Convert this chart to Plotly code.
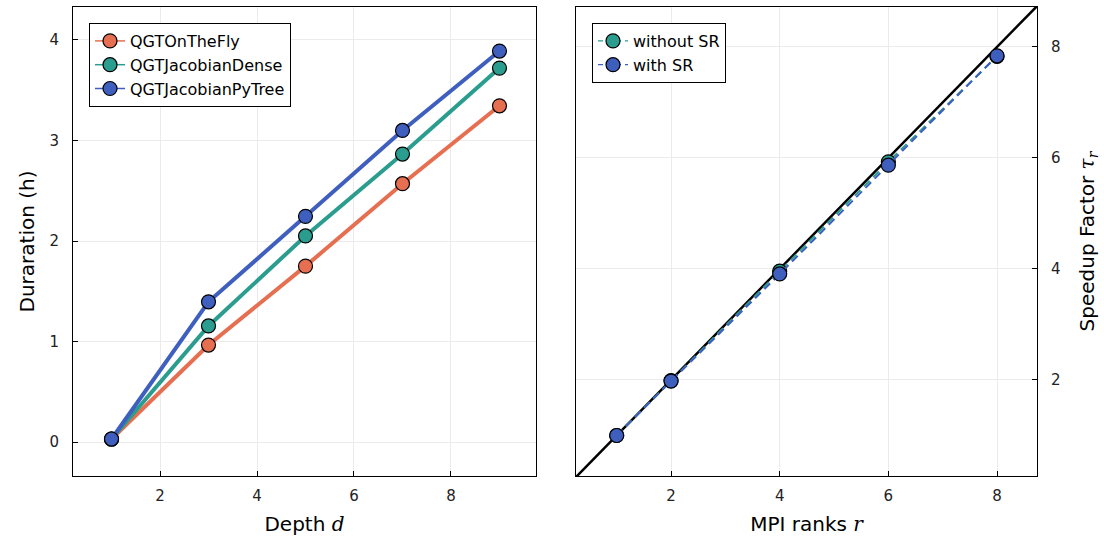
import plotly.graph_objects as go

# ---- data ----
depth = [1, 3, 5, 7, 9]
otf = [0.03, 0.965, 1.75, 2.57, 3.345]
jac_dense = [0.03, 1.155, 2.05, 2.865, 3.72]
jac_pytree = [0.03, 1.395, 2.245, 3.10, 3.89]

ranks = [1, 2, 4, 6, 8]
without_sr = [1.0, 1.99, 3.96, 5.93, 7.83]
with_sr = [1.0, 1.98, 3.91, 5.87, 7.84]
ideal = [0, 10]

C_ORANGE = "#E76F51"
C_TEAL = "#2A9D8F"
C_BLUE = "#3F5FBF"
FONT = "DejaVu Sans"

fig = go.Figure()

def mk(color):
    return dict(size=14, color=color, line=dict(color="black", width=1.2))

for name, ys, c in [("QGTOnTheFly", otf, C_ORANGE),
                    ("QGTJacobianDense", jac_dense, C_TEAL),
                    ("QGTJacobianPyTree", jac_pytree, C_BLUE)]:
    fig.add_trace(go.Scatter(x=depth, y=ys, name=name, mode="lines+markers",
                             line=dict(color=c, width=4), marker=mk(c),
                             xaxis="x", yaxis="y", showlegend=False, legendgroup=name))
    # legend entry with thin line, as in reference
    fig.add_trace(go.Scatter(x=[None], y=[None], name=name, mode="lines+markers",
                             line=dict(color=c, width=1.5), marker=mk(c),
                             xaxis="x", yaxis="y", legend="legend", legendgroup=name))

fig.add_trace(go.Scatter(x=ideal, y=ideal, mode="lines", showlegend=False,
                         line=dict(color="black", width=2.5),
                         xaxis="x2", yaxis="y2"))
for name, ys, c in [("without SR", without_sr, C_TEAL),
                    ("with SR", with_sr, C_BLUE)]:
    fig.add_trace(go.Scatter(x=ranks, y=ys, name=name, mode="lines+markers",
                             line=dict(color=c, width=2, dash="8px,5px"), marker=mk(c),
                             xaxis="x2", yaxis="y2", showlegend=False, legendgroup=name))
    fig.add_trace(go.Scatter(x=[None], y=[None], name=name, mode="lines+markers",
                             line=dict(color=c, width=1.2, dash="5px,4px"), marker=mk(c),
                             xaxis="x2", yaxis="y2", legend="legend2", legendgroup=name))

W, H = 1104, 536
def fx(p): return p / W
def fy(p): return (H - p) / H

axis_common = dict(showline=True, linecolor="black", linewidth=1, mirror=True,
                   ticks="inside", ticklen=5, tickcolor="black",
                   showgrid=True, gridcolor="#ebebeb", gridwidth=1,
                   zeroline=False, tickfont=dict(family=FONT, size=15, color="#222"),
                   title_font=dict(family=FONT, size=20, color="black"))

fig.update_layout(
    width=W, height=H, margin=dict(l=0, r=0, t=0, b=0),
    paper_bgcolor="white", plot_bgcolor="white",
    font=dict(family=FONT, size=15, color="black"),
    xaxis=dict(domain=[fx(73), fx(536)], range=[0.206, 9.753], tickvals=[2, 4, 6, 8],
               anchor="y", ticklabelstandoff=6,
               title=dict(text="Depth <span style='font-family:DejaVu Serif'><i>d</i></span>", standoff=14),
               **axis_common),
    yaxis=dict(domain=[fy(476), fy(7)], range=[-0.338, 4.328], tickvals=[0, 1, 2, 3, 4],
               anchor="x", ticklabelstandoff=10,
               title=dict(text="Duraration (h)", standoff=9),
               **axis_common),
    xaxis2=dict(domain=[fx(576), fx(1037)], range=[0.251, 8.736], tickvals=[2, 4, 6, 8],
                anchor="y2", ticklabelstandoff=6,
                title=dict(text="MPI ranks <span style='font-family:DejaVu Serif'><i>r</i></span>", standoff=14),
                **axis_common),
    yaxis2=dict(domain=[fy(476), fy(7)], range=[0.27, 8.72], tickvals=[2, 4, 6, 8],
                anchor="x2", side="right", ticklabelstandoff=10,
                title=dict(text="Speedup Factor <span style='font-family:DejaVu Serif'><i>τ<sub>r</sub></i></span>", standoff=20),
                **axis_common),
    legend=dict(x=fx(89), y=fy(23), xanchor="left", yanchor="top",
                bordercolor="black", borderwidth=1, bgcolor="white",
                font=dict(family=FONT, size=16), itemwidth=30, tracegroupgap=0),
    legend2=dict(x=fx(592), y=fy(23), xanchor="left", yanchor="top",
                 bordercolor="black", borderwidth=1, bgcolor="white",
                 font=dict(family=FONT, size=16), itemwidth=30, tracegroupgap=0),
)

fig.write_html("out.html", config={"displayModeBar": False},
               post_script="document.body.style.margin='0';document.body.style.overflow='hidden';")
